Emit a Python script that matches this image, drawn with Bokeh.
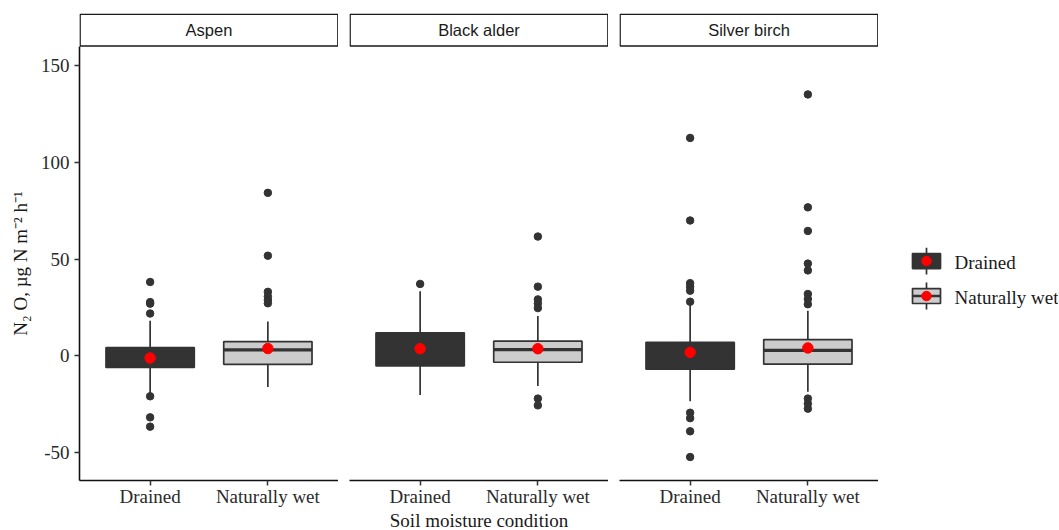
from bokeh.plotting import figure
from bokeh.models import Range1d, FixedTicker
from bokeh.layouts import row, column
from bokeh.embed import file_html
from bokeh.resources import INLINE
from bokeh.core.properties import value

# ---------------- data ----------------
panels = ["Aspen", "Black alder", "Silver birch"]
conditions = ["Drained", "Naturally wet"]

# per panel: [Drained, Naturally wet]
q1 = [[-6.0, -4.4], [-5.2, -3.3], [-6.9, -4.3]]
median = [[-0.5, 3.1], [3.0, 3.2], [0.5, 2.8]]
q3 = [[4.3, 7.4], [11.9, 7.6], [7.0, 8.4]]
lower_whisker = [[-19.2, -16.1], [-20.3, -15.6], [-23.5, -18.6]]
upper_whisker = [[18.1, 17.8], [33.4, 20.6], [27.6, 23.3]]
mean = [[-1.1, 3.8], [3.7, 3.7], [1.8, 4.1]]
outliers = [
    [[38.2, 27.8, 27.0, 21.9, -20.9, -31.8, -36.6],
     [84.3, 51.8, 33.1, 30.7, 28.9, 27.2]],
    [[37.2],
     [61.7, 35.8, 29.2, 27.1, 24.7, -22.1, -25.6]],
    [[112.7, 70.0, 37.6, 35.8, 33.7, 28.0, -29.4, -32.2, -39.0, -52.3],
     [135.2, 76.8, 64.6, 47.7, 44.2, 32.0, 29.4, 26.7, -22.1, -24.7, -27.3]],
]
y_ticks = [-50, 0, 50, 100, 150]
y_tick_labels = ["-50", "0", "50", "100", "150"]
y_title = "N\u2082 O, \u00b5g N  m\u207b\u00b2 h\u207b\u00b9"
x_title = "Soil moisture condition"

# ---------------- style ----------------
FILL = ["#333333", "#cccccc"]
INK = "#333333"
SERIF = "Liberation Serif"
SANS = "Liberation Sans"
Y0, Y1 = -64.45, 177.04
STRIP_LO, STRIP_HI = 160.2, 176.6
XPOS = [1, 2]
BOXW = 0.75
TOP_H = 509
MB_TOP, MB_BOT = 13, 28
PXU = (TOP_H - MB_TOP - MB_BOT) / (Y1 - Y0)  # pixels per data unit


def base_fig(width, **kw):
    p = figure(width=width, output_backend="svg", toolbar_location=None, **kw)
    p.outline_line_color = None
    p.background_fill_color = "white"
    p.border_fill_color = "white"
    p.grid.visible = False
    return p


def make_panel(i):
    first = i == 0
    left = 44 if first else 11
    p = base_fig(left + 259, height=TOP_H,
                 x_range=Range1d(0.4, 2.6), y_range=Range1d(Y0, Y1),
                 min_border_left=left, min_border_right=0,
                 min_border_top=MB_TOP, min_border_bottom=MB_BOT,
                 y_axis_location="left" if first else None)

    # whiskers
    p.segment(x0=XPOS, y0=q3[i], x1=XPOS, y1=upper_whisker[i], line_color=INK, line_width=1.7)
    p.segment(x0=XPOS, y0=q1[i], x1=XPOS, y1=lower_whisker[i], line_color=INK, line_width=1.7)
    # boxes
    p.vbar(x=XPOS, bottom=q1[i], top=q3[i], width=BOXW, fill_color=FILL,
           line_color=INK, line_width=1.7)
    # medians
    p.segment(x0=[x - BOXW / 2 for x in XPOS], x1=[x + BOXW / 2 for x in XPOS],
              y0=median[i], y1=median[i], line_color=INK, line_width=3.2)
    # outliers
    for j, x in enumerate(XPOS):
        p.scatter(x=[x] * len(outliers[i][j]), y=outliers[i][j], size=7.5,
                  fill_color=INK, line_color=INK)
    # means
    p.scatter(x=XPOS, y=mean[i], size=10.5, fill_color="#ff0000", line_color="#ff0000")

    # strip
    p.quad(left=[0.4 + 0.005], right=[2.6 - 0.005], bottom=[STRIP_LO], top=[STRIP_HI],
           fill_color="white", line_color="#1a1a1a", line_width=1.5)
    p.text(x=[1.5], y=[(STRIP_LO + STRIP_HI) / 2], text=[panels[i]],
           text_font=value(SANS), text_font_size="16.5px", text_color="#1a1a1a",
           text_align="center", text_baseline="middle")

    # x axis
    xa = p.xaxis[0]
    xa.ticker = FixedTicker(ticks=XPOS)
    xa.major_label_overrides = {XPOS[k]: conditions[k] for k in range(2)}
    xa.minor_tick_line_color = None
    xa.axis_line_color = "#111111"
    xa.axis_line_width = 1.6
    xa.major_tick_line_color = INK
    xa.major_tick_line_width = 1.5
    xa.major_tick_in = 0
    xa.major_tick_out = 5
    xa.major_label_standoff = 0
    xa.major_label_text_font = SERIF
    xa.major_label_text_font_size = "19px"
    xa.major_label_text_color = "#2a2a2a"

    if first:
        ya = p.yaxis[0]
        ya.ticker = FixedTicker(ticks=y_ticks)
        ya.major_label_overrides = dict(zip(y_ticks, y_tick_labels))
        ya.bounds = (Y0, STRIP_LO)
        ya.minor_tick_line_color = None
        ya.axis_line_color = "#111111"
        ya.axis_line_width = 1.6
        ya.major_tick_line_color = INK
        ya.major_tick_line_width = 1.5
        ya.major_tick_in = 0
        ya.major_tick_out = 5
        ya.major_label_standoff = 5
        ya.major_label_text_font = SERIF
        ya.major_label_text_font_size = "19px"
        ya.major_label_text_color = "#2a2a2a"
    return p


# y title column
ylab = base_fig(35, height=TOP_H, x_range=Range1d(0, 35), y_range=Range1d(Y0, Y1),
                min_border_left=0, min_border_right=0,
                min_border_top=MB_TOP, min_border_bottom=MB_BOT,
                x_axis_location=None, y_axis_location=None)
ylab.text(x=[20], y=[49.0], text=[y_title], angle=1.5707963,
          text_font=value(SERIF), text_font_size="19px", text_color="#1a1a1a",
          text_align="center", text_baseline="middle")

figs = [make_panel(i) for i in range(3)]

# ---------------- legend ----------------
LW = 180
lg = base_fig(LW, height=TOP_H, x_range=Range1d(0, LW), y_range=Range1d(Y0, Y1),
              min_border_left=0, min_border_right=0,
              min_border_top=MB_TOP, min_border_bottom=MB_BOT,
              x_axis_location=None, y_axis_location=None)
KX = 48
KH = 7.5 / PXU
WH = 13.5 / PXU
cy = [49.0 - k * 35 / PXU for k in range(len(conditions))]
lg.segment(x0=[KX] * 2, x1=[KX] * 2, y0=[c + WH for c in cy], y1=[c - WH for c in cy],
           line_color=INK, line_width=1.7)
lg.quad(left=[KX - 14] * 2, right=[KX + 14] * 2, top=[c + KH for c in cy], bottom=[c - KH for c in cy],
        fill_color=FILL, line_color=INK, line_width=1.7)
lg.segment(x0=[KX - 14] * 2, x1=[KX + 14] * 2, y0=cy, y1=cy, line_color=INK, line_width=2.5)
lg.scatter(x=[KX] * 2, y=cy, size=9.5, fill_color="#ff0000", line_color="#ff0000")
lg.text(x=[76] * 2, y=[c - 1 / PXU for c in cy], text=conditions, text_font=value(SERIF),
        text_font_size="19px", text_color="#1a1a1a", text_align="left", text_baseline="middle")

# ---------------- x title row ----------------
TOTAL_W = 35 + 303 + 270 + 270 + LW
XT_H = 21
xt = base_fig(TOTAL_W, height=XT_H, x_range=Range1d(0, TOTAL_W), y_range=Range1d(0, XT_H),
              min_border_left=0, min_border_right=0, min_border_top=0, min_border_bottom=0,
              x_axis_location=None, y_axis_location=None)
xt.text(x=[478.5], y=[10.5], text=[x_title], text_font=value(SERIF), text_font_size="19px",
        text_color="#1a1a1a", text_align="center", text_baseline="middle")

layout = column(row(ylab, *figs, lg), xt)
open("out.html", "w").write(file_html(layout, INLINE))
